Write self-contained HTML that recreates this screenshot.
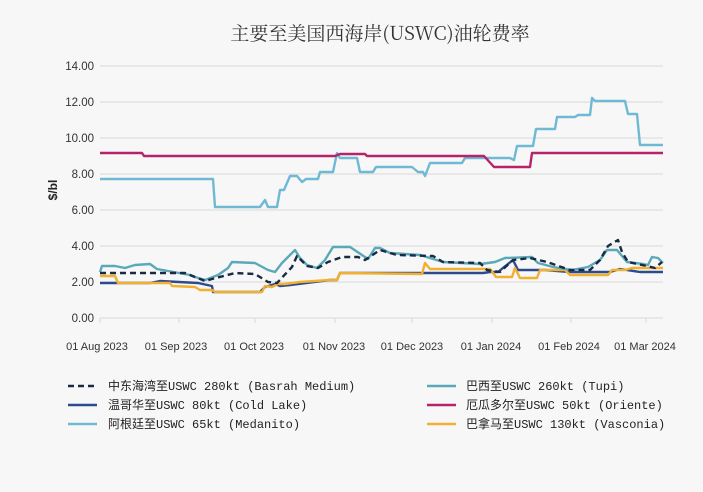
<!DOCTYPE html>
<html><head><meta charset="utf-8"><style>
body{margin:0;background:#f7f7f7;}
svg{display:block;font-family:"Liberation Sans","Noto Sans CJK SC",sans-serif;}
.t{font-family:"Liberation Mono","Noto Sans CJK SC",monospace;font-size:12px;fill:#222}
</style></head><body>
<svg width="703" height="492" viewBox="0 0 703 492">
<rect width="703" height="492" fill="#f7f7f7"/>
<text x="380" y="40" text-anchor="middle" font-size="19" fill="#333" font-family="'Noto Serif CJK SC','Liberation Serif',serif">主要至美国西海岸(USWC)油轮费率</text>
<g stroke="#d9d9d9" stroke-width="1">
<line x1="100" x2="663" y1="66" y2="66"/><line x1="100" x2="663" y1="102" y2="102"/><line x1="100" x2="663" y1="138" y2="138"/><line x1="100" x2="663" y1="174" y2="174"/><line x1="100" x2="663" y1="210" y2="210"/><line x1="100" x2="663" y1="246" y2="246"/><line x1="100" x2="663" y1="282" y2="282"/><line x1="100" x2="663" y1="318" y2="318"/>
<line x1="100" x2="100" y1="318" y2="323"/><line x1="179" x2="179" y1="318" y2="323"/><line x1="255" x2="255" y1="318" y2="323"/><line x1="335" x2="335" y1="318" y2="323"/><line x1="412" x2="412" y1="318" y2="323"/><line x1="492" x2="492" y1="318" y2="323"/><line x1="571" x2="571" y1="318" y2="323"/><line x1="646" x2="646" y1="318" y2="323"/>
</g>
<g font-size="11.5" fill="#333" text-anchor="end">
<text x="94" y="70">14.00</text><text x="94" y="106">12.00</text><text x="94" y="142">10.00</text><text x="94" y="178">8.00</text><text x="94" y="214">6.00</text><text x="94" y="250">4.00</text><text x="94" y="286">2.00</text><text x="94" y="322">0.00</text>
</g>
<text transform="translate(57,190) rotate(-90)" text-anchor="middle" font-size="12" font-weight="bold" fill="#222">$/bl</text>
<g font-size="11" fill="#333" text-anchor="middle">
<text x="97" y="350">01 Aug 2023</text><text x="176" y="350">01 Sep 2023</text><text x="254" y="350">01 Oct 2023</text><text x="334" y="350">01 Nov 2023</text><text x="412" y="350">01 Dec 2023</text><text x="491" y="350">01 Jan 2024</text><text x="569" y="350">01 Feb 2024</text><text x="645" y="350">01 Mar 2024</text>
</g>
<g fill="none" stroke-width="2.4" stroke-linejoin="round">
<polyline stroke="#6fb9d4" points="100,179 213,179 215,207 260,207 265,200 268,207 277,207 280,190 284,190 290,176 297,176 302,182 306,179 318,179 320,172 333,172 337,153 340,158 357,158 360,172 373,172 376,167 412,167 418,172 423,172 425,176 430,163 462,163 465,158 510,158 514,160 517,146 533,146 536,129 555,129 557,117 575,117 578,115 590,115 592,98 595,101 625,101 628,114 637,114 640,145 663,145"/>
<polyline stroke="#b5246a" points="100,153 142,153 144,156 335,156 340,154 365,154 367,156 484,156 494,167 530,167 532,153 663,153"/>
<polyline stroke="#2e4a8f" points="100,283 150,283 160,281 198,283 212,286 213,292 260,292 265,287 275,284 280,286 290,285 330,280 337,280 340,273 483,273 490,272 498,272 513,260 518,270 545,270 570,272 588,272 610,272 620,269 640,272 663,272"/>
<polyline stroke="#f0b030" points="100,276 115,276 118,283 170,283 172,286 195,287 200,290 212,290 215,292 262,292 265,286 272,287 278,284 285,284 300,282 330,280 337,280 340,273 422,274 425,263 430,269 490,269 496,277 512,277 515,268 520,278 537,278 540,270 565,270 570,275 608,275 612,270 625,270 632,268 663,268"/>
<polyline stroke="#59a9b9" points="100,272 102,266 115,266 125,268 135,265 150,264 157,269 190,275 195,277 205,280 218,275 228,268 232,262 255,263 268,270 275,272 282,263 295,250 300,258 307,265 317,268 325,260 333,247 350,247 368,259 375,248 380,248 390,253 420,255 443,262 480,264 488,263 495,262 505,258 532,257 538,263 553,267 572,270 588,267 600,260 607,250 617,250 627,262 643,264 648,265 652,257 658,258 663,263"/>
<polyline stroke="#1b2a44" stroke-dasharray="6,4" points="100,273 155,273 185,273 195,277 205,281 212,279 235,273 255,274 268,282 277,283 292,267 297,256 307,266 318,268 328,262 342,257 358,257 365,260 380,250 397,255 433,256 443,262 480,263 487,270 500,272 513,260 530,258 547,262 570,270 590,270 600,260 608,246 618,240 622,252 628,262 647,266 655,268 662,262"/>
</g>
<g font-size="11.5" class="t">
<line x1="68" y1="386" x2="97" y2="386" stroke="#1b2a44" stroke-width="2.5" stroke-dasharray="6,4"/>
<text x="108" y="390" class="t">中东海湾至USWC 280kt (Basrah Medium)</text>
<line x1="68" y1="405" x2="97" y2="405" stroke="#2e4a8f" stroke-width="2.5"/>
<text x="108" y="409" class="t">温哥华至USWC 80kt (Cold Lake)</text>
<line x1="68" y1="424" x2="97" y2="424" stroke="#6fb9d4" stroke-width="2.5"/>
<text x="108" y="428" class="t">阿根廷至USWC 65kt (Medanito)</text>
<line x1="427" y1="386" x2="456" y2="386" stroke="#59a9b9" stroke-width="2.5"/>
<text x="466" y="390" class="t">巴西至USWC 260kt (Tupi)</text>
<line x1="427" y1="405" x2="456" y2="405" stroke="#b5246a" stroke-width="2.5"/>
<text x="466" y="409" class="t">厄瓜多尔至USWC 50kt (Oriente)</text>
<line x1="427" y1="424" x2="456" y2="424" stroke="#f0b030" stroke-width="2.5"/>
<text x="466" y="428" class="t">巴拿马至USWC 130kt (Vasconia)</text>
</g>
</svg>
</body></html>
